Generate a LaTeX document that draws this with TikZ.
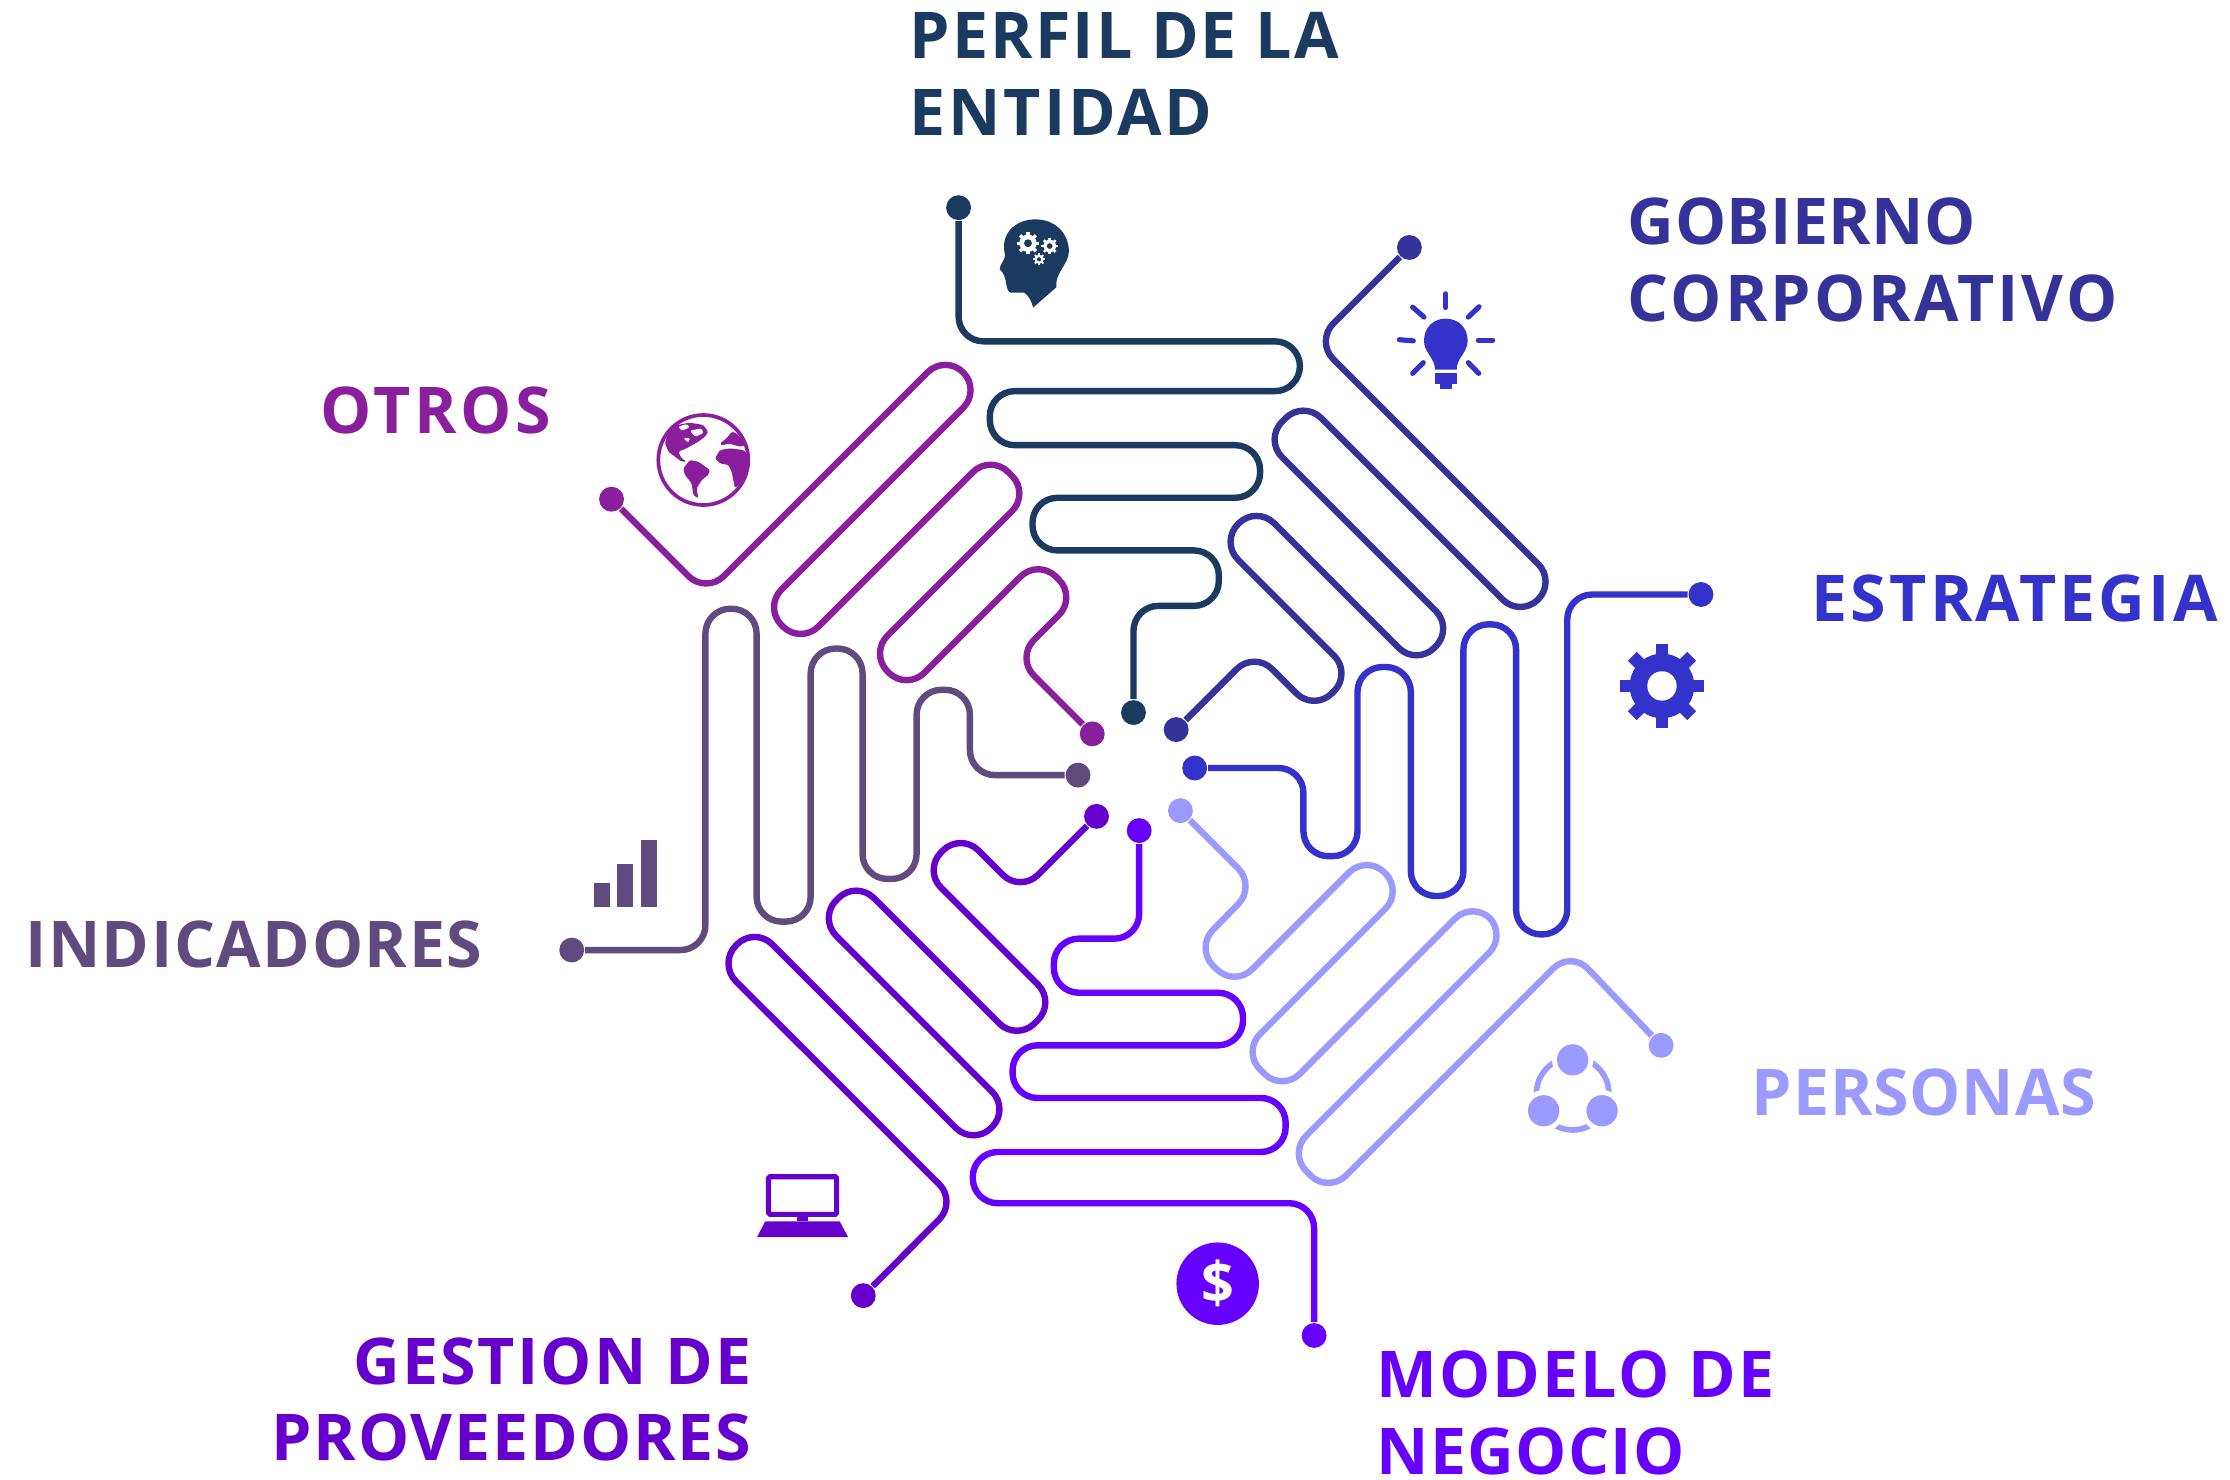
\documentclass[tikz,border=0pt]{standalone}
\usepackage{fontspec}
\setmainfont{Open Sans}
\definecolor{perfilc}{HTML}{1A3A5F}
\definecolor{gobiernoc}{HTML}{35339A}
\definecolor{estrategiac}{HTML}{3333CC}
\definecolor{personasc}{HTML}{9B9BFF}
\definecolor{modeloc}{HTML}{6600FF}
\definecolor{gestionc}{HTML}{6600CC}
\definecolor{indicadoresc}{HTML}{5F4B7E}
\definecolor{otrosc}{HTML}{8A1F9E}
\newcommand{\cog}[4]{%
  \begin{scope}[shift={(#1)},scale=#2]
    \fill[#3] (0,0) circle (0.77);
    \foreach \a in {0,45,...,315}
      \fill[#3,rotate=\a] (-0.15,0) rectangle (0.15,1);
    \fill[#4] (0,0) circle (0.35);
  \end{scope}}
\newcommand{\spc}[2]{{\addfontfeature{LetterSpace=#1}#2}}

\begin{document}
\begin{tikzpicture}[x=0.1mm,y=-0.1mm]
  \tikzstyle{trace}=[line width=0.45mm,rounded corners=1.75mm]
  \tikzstyle{dotnode}=[circle,inner sep=0pt,minimum size=1.75mm]
  \tikzstyle{lbl}=[inner sep=0pt,align=left,font=\fontsize{12.9}{15.3}\selectfont\bfseries]
  \tikzstyle{icona}=[shift={(393.8,126.6)},x=0.03139mm,y=-0.02511mm]
  \tikzstyle{iconb}=[shift={(871.9,126.6)},x=0.02344mm,y=-0.02691mm]
  \tikzstyle{iconc}=[shift={(379.7,506.3)},x=0.02691mm,y=-0.0278mm]
  \tikzstyle{icond}=[shift={(450,281.25)},x=0.02344mm,y=-0.02344mm]
  \useasboundingbox (0,0) rectangle (1568,1040);

  % outer ends
  \node[dotnode,fill=perfilc]      (perfilOut)      at (674,146) {};
  \node[dotnode,fill=gobiernoc]    (gobiernoOut)    at (991,174) {};
  \node[dotnode,fill=estrategiac]  (estrategiaOut)  at (1196,418) {};
  \node[dotnode,fill=personasc]    (personasOut)    at (1168,735) {};
  \node[dotnode,fill=modeloc]      (modeloOut)      at (924,939) {};
  \node[dotnode,fill=gestionc]     (gestionOut)     at (607,911) {};
  \node[dotnode,fill=indicadoresc] (indicadoresOut) at (402,668) {};
  \node[dotnode,fill=otrosc]       (otrosOut)       at (430,351) {};

  % inner ends
  \node[dotnode,fill=perfilc]      (perfilIn)      at (797,501) {};
  \node[dotnode,fill=gobiernoc]    (gobiernoIn)    at (827,513) {};
  \node[dotnode,fill=estrategiac]  (estrategiaIn)  at (840,540) {};
  \node[dotnode,fill=personasc]    (personasIn)    at (830,570) {};
  \node[dotnode,fill=modeloc]      (modeloIn)      at (801,584) {};
  \node[dotnode,fill=gestionc]     (gestionIn)     at (771,574) {};
  \node[dotnode,fill=indicadoresc] (indicadoresIn) at (758,545) {};
  \node[dotnode,fill=otrosc]       (otrosIn)       at (768,516) {};

  % traces
  \draw[trace,perfilc] (perfilOut) -- (674,240) -- (914,240) -- (914,275) -- (696,275)
    -- (696,313) -- (886,313) -- (886,350) -- (726,350) -- (726,387) -- (857,387)
    -- (857,426) -- (797,426) -- (perfilIn);
  \draw[trace,gobiernoc] (gobiernoOut) -- (925,240) -- (1094,409) -- (1069,434)
    -- (916.5,281.5) -- (889,309) -- (1022,442) -- (996,468) -- (883.5,355.5)
    -- (858,381) -- (950.5,473.5) -- (924,500) -- (882,458) -- (gobiernoIn);
  \draw[trace,estrategiac] (estrategiaOut) -- (1102,418) -- (1102,657) -- (1066,657)
    -- (1066,439) -- (1029,439) -- (1029,630) -- (992,630) -- (992,469) -- (954.5,469)
    -- (954.5,602) -- (916.5,602) -- (916.5,540) -- (estrategiaIn);
  \draw[trace,personasc] (personasOut) -- (1104.5,668.5) -- (934,839) -- (906,811)
    -- (1059.5,657.5) -- (1035.5,633.5) -- (901.5,767.5) -- (873.5,739.5) -- (986.5,626.5)
    -- (961,601) -- (868,694) -- (840.5,666.5) -- (883,623) -- (personasIn);
  \draw[trace,modeloc] (modeloOut) -- (924,846) -- (684,846) -- (684,810) -- (904,810)
    -- (904,772) -- (712,772) -- (712,735) -- (874,735) -- (874,698) -- (741,698)
    -- (741,660) -- (801,660) -- (modeloIn);
  \draw[trace,gestionc] (gestionOut) -- (672.75,845) -- (505,677.5) -- (530.5,651.5)
    -- (684.5,805.5) -- (710,780) -- (575.5,645.5) -- (602,619) -- (715,732)
    -- (742.25,704.75) -- (649.25,611.75) -- (675.5,585.5) -- (717.5,627.5) -- (gestionIn);
  \draw[trace,indicadoresc] (indicadoresOut) -- (496,668) -- (496,428) -- (532,428)
    -- (532,648) -- (570,648) -- (570,456) -- (606.5,456) -- (606.5,618) -- (644.5,618)
    -- (644.5,485) -- (682,485) -- (682,545) -- (indicadoresIn);
  \draw[trace,otrosc] (otrosOut) -- (496.5,417.5) -- (664.7,249.3) -- (689.7,274.3)
    -- (537,427) -- (563,453) -- (696.5,319.5) -- (724,347) -- (611.5,459.5)
    -- (637.5,485.5) -- (730,393) -- (757,420) -- (714.5,462.5) -- (otrosIn);

  % labels
  \node[lbl,text=perfilc,anchor=base west]      (perfilLabel)      at (639,95)
    {\spc{3.2}{PERFIL DE LA}\\\spc{4.4}{ENTIDAD}};
  \node[lbl,text=gobiernoc,anchor=base west]    (gobiernoLabel)    at (1144,226)
    {\spc{0.6}{GOBIERNO}\\\spc{4.7}{CORPORATIVO}};
  \node[lbl,text=estrategiac,anchor=base west]  (estrategiaLabel)  at (1273,437)
    {\spc{5}{ESTRATEGIA}};
  \node[lbl,text=personasc,anchor=base west]    (personasLabel)    at (1231,784)
    {\spc{1.3}{PERSONAS}};
  \node[lbl,text=modeloc,anchor=base west]      (modeloLabel)      at (967,1036.5)
    {\spc{3.4}{MODELO DE}\\\spc{2.2}{NEGOCIO}};
  \node[lbl,text=gestionc,align=right,anchor=base east] (gestionLabel) at (529,1027)
    {\spc{3.2}{GESTION DE}\\\spc{2.9}{PROVEEDORES}};
  \node[lbl,text=indicadoresc,anchor=base west] (indicadoresLabel) at (17,680)
    {\spc{2.4}{INDICADORES}};
  \node[lbl,text=otrosc,anchor=base west]       (otrosLabel)       at (225,305)
    {\spc{5.5}{OTROS}};

  % head
  \begin{scope}[icona]
    \fill[perfilc] (1065,110) .. controls (1110,110) and (1140,150) .. (1140,200)
      .. controls (1140,235) and (1108,260) .. (1112,300) -- (1060,357)
      .. controls (1055,335) and (1050,325) .. (1040,315) -- (1010,315)
      .. controls (995,310) and (1005,270) .. (985,250)
      .. controls (985,235) and (997,225) .. (997,210)
      .. controls (985,150) and (1020,110) .. (1065,110) -- cycle;
  \end{scope}
  \cog{722.8,171}{7.9}{white}{perfilc}
  \cog{738.1,173}{5.8}{white}{perfilc}
  \cog{730.6,182.3}{4.2}{white}{perfilc}

  % globe
  \begin{scope}[icond,rounded corners=0.1mm]
    \draw[otrosc,line width=0.26mm] (190,180) circle (135);
    \fill[otrosc] (75,130) -- (85,95) -- (110,75) -- (150,68) -- (190,75) -- (205,95)
      -- (195,110) -- (175,125) -- (140,145) -- (115,155) -- (125,175) -- (140,185)
      -- (125,185) -- (105,170) -- (85,155) -- cycle;
    \fill[white] (115,80) -- (140,72) -- (150,82) -- (125,92) -- cycle;
    \fill[white] (150,92) -- (185,85) -- (190,100) -- (165,110) -- cycle;
    \fill[white] (130,115) -- (150,113) -- (145,128) -- cycle;
    \fill[otrosc] (130,205) -- (150,180) -- (175,185) -- (210,210) -- (205,225) -- (185,240)
      -- (170,265) -- (175,295) -- (160,285) -- (155,250) -- (135,225) -- cycle;
    \fill[otrosc] (225,175) -- (240,150) -- (270,145) -- (310,150) -- (325,165) -- (325,190)
      -- (310,240) -- (285,265) -- (275,215) -- (265,195) -- (240,190) -- cycle;
    \fill[otrosc] (240,130) -- (260,115) -- (275,95) -- (290,100) -- (320,135) -- (300,140)
      -- (265,130) -- (245,137) -- cycle;
  \end{scope}

  % bulb
  \begin{scope}[iconb]
    \fill[estrategiac] (617,362) .. controls (655,362) and (683,385) .. (683,420)
      .. controls (683,450) and (650,465) .. (650,495) -- (585,495)
      .. controls (585,465) and (552,450) .. (552,420)
      .. controls (552,385) and (580,362) .. (617,362) -- cycle;
    \fill[estrategiac] (585,505) rectangle (650,533);
    \fill[estrategiac] (600,533) rectangle (636,545);
    \foreach \xa/\ya/\xb/\yb in {617/297/617/333, 717/331/685/358, 758/418/715/418,
        716/505/685/477, 550/477/518/505, 520/420/478/417, 552/358/518/332}
      \draw[estrategiac,line width=0.36mm,line cap=round] (\xa,\ya) -- (\xb,\yb);
  \end{scope}

  % gear
  \cog{1168.6,482.3}{29.5}{estrategiac}{white}

  % people
  \draw[personasc,line width=0.4mm] (1105.8,769) circle (25.5);
  \foreach \cx/\cy in {1105.8/745.2, 1085.4/781, 1126.5/781} {
    \fill[white] (\cx,\cy) circle (14.5);
    \fill[personasc] (\cx,\cy) circle (11);
  }

  % dollar
  \node[circle,fill=modeloc,text=white,inner sep=0pt,minimum size=5.8mm,
        font=\fontsize{11.5}{12}\selectfont\bfseries] (dollar) at (856.2,902.6) {\$};

  % laptop
  \begin{scope}[iconc]
    \draw[gestionc,line width=0.36mm,rounded corners=0.1mm] (597,1155) rectangle (775,1250);
    \fill[gestionc] (672,1250) rectangle (700,1268);
    \fill[gestionc] (588,1268) -- (783,1268) -- (805,1308) -- (567,1308) -- cycle;
  \end{scope}

  % bars
  \begin{scope}[iconc]
    \fill[indicadoresc] (141,412) rectangle (182,474);
    \fill[indicadoresc] (202,365) rectangle (243,474);
    \fill[indicadoresc] (263,304) rectangle (305,474);
  \end{scope}
\end{tikzpicture}
\end{document}
